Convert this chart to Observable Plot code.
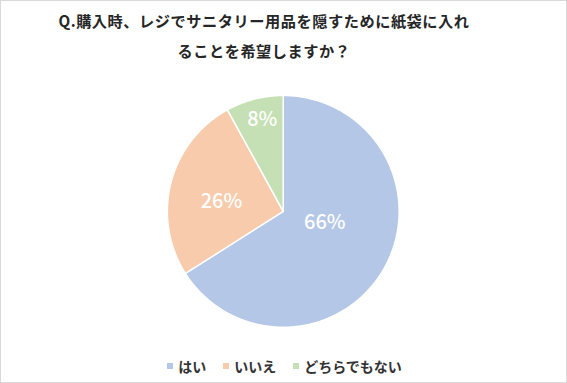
<!DOCTYPE html>
<html>
<head>
<meta charset="utf-8">
<script src="https://cdn.jsdelivr.net/npm/d3@7"></script>
<script src="https://cdn.jsdelivr.net/npm/@observablehq/plot@0.6"></script>
<style>
  html, body { margin: 0; padding: 0; background: #fff; }
  #frame {
    position: relative; width: 567px; height: 383px; box-sizing: border-box;
    border: 1.5px solid #d9d9d9; background: #fff; overflow: hidden;
    font-family: "Noto Sans CJK JP", "Noto Sans", sans-serif;
  }
  #title {
    position: absolute; left: 0; top: 4px; width: 526px; text-align: center;
    font-size: 15.2px; font-weight: bold; line-height: 30px; color: #262626;
    letter-spacing: 0.55px;
  }
  #chart { position: absolute; left: -1.5px; top: 78.5px; }
  #legend {
    position: absolute; left: 0; width: 567px; top: 355px; display: flex;
    justify-content: center; gap: 17px; font-size: 14px; font-weight: bold; color: #333;
    line-height: 20px;
  }
  #legend .item { display: flex; align-items: center; }
  #legend .sw { width: 6px; height: 6px; margin-right: 5px; }
</style>
</head>
<body>
<div id="frame">
  <div id="title">Q.購入時、レジでサニタリー用品を隠すために紙袋に入れ<br>ることを希望しますか？</div>
  <div id="chart"></div>
  <div id="legend"></div>
</div>
<script>
// ---- data ----
const categories = ["はい", "いいえ", "どちらでもない"];
const values = [66, 26, 8];
const valueLabels = ["66%", "26%", "8%"];
const colors = ["#B4C7E7", "#F8CBAD", "#C5E0B4"];

// ---- layout (label placement inside slices) ----
const labelAngleFrac = [0.44, 0.44, 0.55];
const labelRadiusFrac = [0.37, 0.54, 0.81];

const total = d3.sum(values);
let acc = 0;
const slices = categories.map((c, i) => {
  const a0 = acc / total * 2 * Math.PI;
  acc += values[i];
  const a1 = acc / total * 2 * Math.PI;
  return {category: c, value: values[i], label: valueLabels[i], a0, a1, i};
});

// polygon points for each slice (unit circle, clockwise from top)
const pts = [];
for (const s of slices) {
  pts.push({category: s.category, x: 0, y: 0});
  const n = Math.max(2, Math.ceil((s.a1 - s.a0) / (Math.PI / 360)));
  for (let k = 0; k <= n; k++) {
    const a = s.a0 + (s.a1 - s.a0) * k / n;
    pts.push({category: s.category, x: Math.sin(a), y: Math.cos(a)});
  }
  pts.push({category: s.category, x: 0, y: 0});
}

const labelPts = slices.map(s => {
  const a = s.a0 + (s.a1 - s.a0) * labelAngleFrac[s.i];
  const r = labelRadiusFrac[s.i];
  return {label: s.label, x: r * Math.sin(a), y: r * Math.cos(a)};
});

const R = 116, cx = 283, cy = 131;
const plot = Plot.plot({
  width: 567,
  height: 262,
  margin: 0,
  x: {domain: [-1, 1], range: [cx - R, cx + R], axis: null},
  y: {domain: [-1, 1], range: [cy + R, cy - R], axis: null},
  color: {domain: categories, range: colors},
  marks: [
    Plot.line(pts, {x: "x", y: "y", z: "category", fill: "category", stroke: "white", strokeWidth: 1.5, strokeLinejoin: "round"}),
    Plot.text(labelPts, {x: "x", y: "y", text: "label", fill: "white", fontSize: 20, fontWeight: 500,
      fontFamily: "Noto Sans CJK JP, Noto Sans, sans-serif"})
  ]
});
document.getElementById("chart").appendChild(plot);

const legend = document.getElementById("legend");
categories.forEach((c, i) => {
  const item = document.createElement("div");
  item.className = "item";
  const sw = document.createElement("span");
  sw.className = "sw";
  sw.style.background = colors[i];
  const t = document.createElement("span");
  t.textContent = c;
  item.appendChild(sw); item.appendChild(t);
  legend.appendChild(item);
});
</script>
</body>
</html>
